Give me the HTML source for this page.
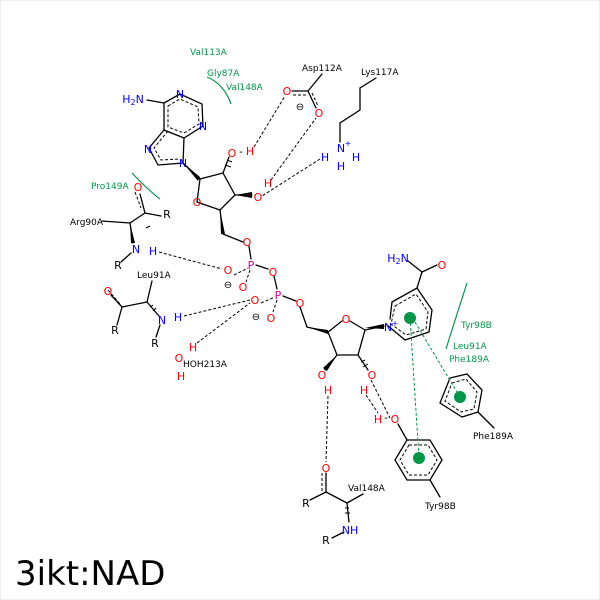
<!DOCTYPE html>
<html><head><meta charset="utf-8"><style>
html,body{margin:0;padding:0;background:#fff;}
svg{display:block;}
text{font-family:"DejaVu Sans","Liberation Sans",sans-serif;}
</style></head><body>
<svg width="600" height="600" viewBox="0 0 600 600" xmlns="http://www.w3.org/2000/svg">
<rect x="0.5" y="0.5" width="599" height="599" fill="#fff" stroke="#f0f0f0"/>
<g stroke="#000" stroke-width="1.3" fill="none" stroke-linecap="round">
<!-- adenine -->
<polyline points="164,103 180,94 202,104 203,126 184,138 164,130 164,103"/>
<polyline points="164,130 149,148 158,165 183,163 184,138"/>
<line x1="147" y1="100" x2="164" y2="103"/>
<!-- ribose 1 -->
<line x1="183" y1="163" x2="200" y2="179"/>
<polyline points="200,179 223,173 235,195 220,210 197,202 200,179"/>
<line x1="223" y1="173" x2="229" y2="157"/>
<line x1="235" y1="195" x2="252" y2="195"/>
<line x1="220" y1="210" x2="223" y2="234"/>
<line x1="223" y1="234" x2="243" y2="242"/>
<line x1="249" y1="246" x2="251" y2="259"/>
<line x1="256" y1="265" x2="268" y2="269"/>
<line x1="274" y1="276" x2="277" y2="289"/>
<line x1="283" y1="296" x2="296" y2="301"/>
<line x1="300" y1="307" x2="307" y2="327"/>
<!-- ribose 2 -->
<polyline points="307,327 328,332 342,321"/>
<polyline points="350,321 365,330 358,355 337,355 328,332"/>
<line x1="365" y1="330" x2="384" y2="326"/>
<line x1="337" y1="355" x2="325" y2="370"/>
<line x1="358" y1="355" x2="368" y2="370"/>
<!-- pyridine -->
<polyline points="392,302 417,288 432,310 429,332 405,340 387,325"/>
<line x1="392" y1="302" x2="390" y2="319"/>
<line x1="417" y1="288" x2="422" y2="272"/>
<line x1="422" y1="272" x2="437" y2="265"/>
<line x1="422" y1="272" x2="408" y2="261"/>
<!-- Phe ring -->
<polygon points="450,378 467,374 482,390 478,412 462,417 440,403"/>
<line x1="478" y1="412" x2="494" y2="428"/>
<!-- Tyr ring -->
<polygon points="407,440 430,440 442,460 430,480 407,480 395,460"/>
<line x1="430" y1="480" x2="440" y2="497"/>
<line x1="398" y1="424" x2="407" y2="440"/>
<!-- Asp -->
<line x1="292" y1="91" x2="308" y2="91"/>
<line x1="308" y1="91" x2="316" y2="108"/>
<line x1="308" y1="91" x2="322" y2="74"/>
<!-- Lys -->
<polyline points="376,78 360,88 360,110 340,123 340,142"/>
<!-- Arg90A -->
<line x1="102" y1="221" x2="130" y2="223"/>
<line x1="130" y1="223" x2="145" y2="213"/>
<line x1="145" y1="213" x2="140" y2="194"/>
<line x1="145" y1="213" x2="161" y2="216"/>
<line x1="130" y1="223" x2="133" y2="243"/>
<line x1="131" y1="253" x2="121" y2="262"/>
<!-- Leu91A -->
<line x1="152" y1="281" x2="147" y2="302"/>
<line x1="147" y1="302" x2="122" y2="307"/>
<line x1="122" y1="307" x2="111" y2="295"/>
<line x1="122" y1="307" x2="117" y2="325"/>
<line x1="147" y1="302" x2="159" y2="316"/>
<line x1="160" y1="325" x2="156" y2="337"/>
<!-- Val148A -->
<line x1="326" y1="473" x2="326" y2="492"/>
<line x1="326" y1="492" x2="310" y2="500"/>
<line x1="326" y1="492" x2="347" y2="503"/>
<line x1="347" y1="503" x2="363" y2="494"/>
<line x1="347" y1="503" x2="349" y2="522"/>
<line x1="344" y1="532" x2="332" y2="538"/>
</g>
<!-- inner dashed aromatic -->
<g stroke="#000" stroke-width="1" fill="none" stroke-dasharray="3,2">
<polyline points="168,106 180,99 198,107 199,124 184,133 168,127 168,106"/>
<polyline points="168,131 154,148 161,160 180,159"/>
<polygon points="395,306 416,294 428,312 426,329 406,335 391,324"/>
<polygon points="452,383 466,379 477,392 474,409 461,412 445,401"/>
<polygon points="409,445 428,445 437,460 428,475 409,475 400,460"/>
<line x1="293" y1="95" x2="307" y2="95"/>
<line x1="312" y1="93" x2="318" y2="106"/>
<line x1="234" y1="275" x2="248" y2="268"/>
<line x1="250" y1="270" x2="246" y2="282"/>
<line x1="261" y1="303" x2="275" y2="297"/>
<line x1="277" y1="300" x2="273" y2="312"/>
<line x1="108" y1="290" x2="120" y2="304"/>
<line x1="135" y1="192" x2="141" y2="208"/>
<line x1="322" y1="473" x2="322" y2="491"/>
</g>
<!-- H bonds -->
<g stroke="#000" stroke-width="1" fill="none" stroke-dasharray="3,2">
<line x1="159" y1="252" x2="222" y2="269"/>
<line x1="184" y1="316" x2="250" y2="300"/>
<line x1="197" y1="343" x2="250" y2="303"/>
<line x1="254" y1="147" x2="285" y2="96"/>
<line x1="271" y1="180" x2="316" y2="118"/>
<line x1="320" y1="159" x2="262" y2="196"/>
<line x1="328" y1="396" x2="326" y2="462"/>
<line x1="366" y1="395" x2="378" y2="413"/>
<line x1="371" y1="380" x2="390" y2="418"/>
</g>
<!-- wedges -->
<g fill="#000">
<polygon points="183,163 200,177 198,181"/>
<polygon points="220,210 221,234 225,234"/>
<polygon points="307,327 328,330 328,334"/>
<polygon points="365,328 384,324 384,329"/>
<polygon points="337,355 323,368 327,371"/>
<polygon points="235,195 252,192 252,198"/>
<polygon points="130,223 131,243 135,243"/>
</g>
<g stroke="#000" stroke-width="1">
<line x1="225" y1="165" x2="231" y2="167"/><line x1="227" y1="160" x2="232" y2="162"/>
<line x1="361" y1="362" x2="365" y2="360"/><line x1="363" y1="367" x2="368" y2="364"/>
<line x1="150" y1="307" x2="153" y2="305"/><line x1="153" y1="311" x2="156" y2="308"/>
<line x1="345" y1="508" x2="349" y2="508"/><line x1="345" y1="513" x2="350" y2="513"/>
<line x1="146" y1="228" x2="150" y2="226"/>
</g>
<!-- green -->
<g stroke="#00964a" stroke-width="1.2" fill="none">
<path d="M207,77 Q224,84 231,104"/>
<path d="M132,173 Q148,190 160,199"/>
<path d="M467,283 Q455,320 446,349"/>
</g>
<g stroke="#00964a" stroke-width="1" stroke-dasharray="3,2">
<line x1="410" y1="318" x2="419" y2="458"/>
<line x1="415" y1="322" x2="460" y2="397"/>
</g>
<g fill="#00964a">
<circle cx="410" cy="318" r="6"/><circle cx="460" cy="397" r="6"/><circle cx="419" cy="458" r="6"/>
</g>
<!-- atom labels -->
<g font-size="11" text-anchor="middle">
<g fill="#0000ff">
<text x="133" y="103">H<tspan font-size="8" dy="2">2</tspan><tspan dy="-2">N</tspan></text>
<text x="180" y="98">N</text><text x="203" y="130">N</text>
<text x="148" y="153">N</text><text x="183" y="167">N</text>
<text x="341" y="152">N</text><text x="348" y="146" font-size="8">+</text>
<text x="325" y="161">H</text><text x="356" y="161">H</text><text x="341" y="170">H</text>
<text x="136" y="253">N</text><text x="153" y="255">H</text>
<text x="162" y="324">N</text><text x="178" y="321">H</text>
<text x="388" y="331">N</text><text x="395" y="326" font-size="8">+</text>
<text x="398" y="262">H<tspan font-size="8" dy="2">2</tspan><tspan dy="-2">N</tspan></text>
<text x="350" y="534">NH</text>
</g>
<g fill="#ff0000">
<text x="232" y="157">O</text><text x="250" y="155">H</text><text x="241" y="155" fill="#000">-</text>
<text x="258" y="201">O</text><text x="268" y="187">H</text>
<text x="197" y="206">O</text>
<text x="287" y="95">O</text><text x="319" y="117">O</text>
<text x="247" y="246">O</text><text x="228" y="274">O</text><text x="243" y="291">O</text><text x="273" y="276">O</text>
<text x="255" y="304">O</text><text x="271" y="322">O</text><text x="300" y="307">O</text>
<text x="346" y="323">O</text>
<text x="322" y="379">O</text><text x="328" y="394">H</text>
<text x="372" y="379">O</text><text x="364" y="394">H</text>
<text x="378" y="423">H</text><text x="386" y="421" fill="#000">-</text><text x="395" y="423">O</text>
<text x="442" y="269">O</text>
<text x="138" y="191">O</text>
<text x="108" y="295">O</text>
<text x="193" y="351">H</text><text x="179" y="362">O</text><text x="181" y="380">H</text>
<text x="326" y="472">O</text>
</g>
<g fill="#cc0099"><text x="251" y="269">P</text><text x="278" y="299">P</text></g>
<g fill="#000">
<text x="167" y="218">R</text><text x="118" y="269">R</text>
<text x="115" y="334">R</text><text x="155" y="347">R</text>
<text x="306" y="507">R</text><text x="326" y="544">R</text>
<text x="300" y="110" font-size="10">⊖</text>
<text x="228" y="288" font-size="10">⊖</text>
<text x="256" y="320" font-size="10">⊖</text>
</g>
</g>
<g font-size="9" fill="#000">
<text x="302" y="71">Asp112A</text>
<text x="361" y="75">Lys117A</text>
<text x="70" y="225">Arg90A</text>
<text x="137" y="278">Leu91A</text>
<text x="183" y="367">HOH213A</text>
<text x="473" y="439">Phe189A</text>
<text x="425" y="509">Tyr98B</text>
<text x="348" y="491">Val148A</text>
</g>
<g font-size="9" fill="#00964a">
<text x="190" y="55">Val113A</text>
<text x="207" y="76">Gly87A</text>
<text x="226" y="90">Val148A</text>
<text x="91" y="189">Pro149A</text>
<text x="461" y="328">Tyr98B</text>
<text x="453" y="349">Leu91A</text>
<text x="449" y="362">Phe189A</text>
</g>
<text x="15" y="585" font-size="34" fill="#000">3ikt:NAD</text>
</svg>
</body></html>
